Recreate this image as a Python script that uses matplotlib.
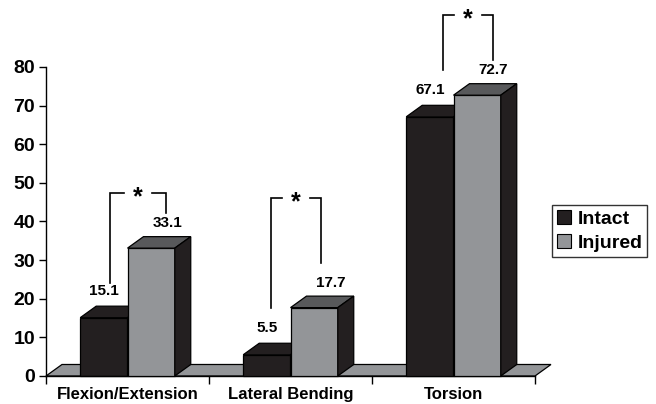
import matplotlib
matplotlib.use("Agg")
import matplotlib.pyplot as plt
from matplotlib.patches import Polygon, Patch

plt.rcParams['font.family'] = ['Liberation Sans', 'DejaVu Sans']
plt.rcParams['font.weight'] = 'bold'

categories = ["Flexion/Extension", "Lateral Bending", "Torsion"]
series_names = ["Intact", "Injured"]
intact = [15.1, 5.5, 67.1]
injured = [33.1, 17.7, 72.7]
yticks = [0, 10, 20, 30, 40, 50, 60, 70, 80]

# significance brackets: (left x, right x, top y, left foot y, right foot y)
brackets = [
    (0.393, 0.736, 47.4, 24.1, 42.2),
    (1.380, 1.687, 46.1, 17.6, 29.3),
    (2.436, 2.742, 93.5, 79.3, 81.9),
]

C_INTACT = "#231f20"
C_INJURED = "#939598"
C_TOP_INJ = "#58595b"
C_FLOOR = "#939598"

W, H = 656, 404
fig = plt.figure(figsize=(W / 100, H / 100), dpi=100)
ax = fig.add_axes([46 / W, (H - 376) / H, 489 / W, 309 / H])
ax.set_xlim(0, 3)
ax.set_ylim(0, 80)

# depth offset of the pseudo-3D extrusion (data units)
DX, DY = 0.098, 2.98
BW = 0.29
LW = 0.9


def poly(pts, fc, z):
    p = Polygon(pts, closed=True, facecolor=fc, edgecolor="black",
                linewidth=LW, zorder=z, clip_on=False, joinstyle="miter")
    ax.add_patch(p)


def box(x0, x1, h, front, top, side, z):
    poly([(x0, 0), (x1, 0), (x1, h), (x0, h)], front, z)
    poly([(x0, h), (x1, h), (x1 + DX, h + DY), (x0 + DX, h + DY)], top, z)
    poly([(x1, 0), (x1 + DX, DY), (x1 + DX, h + DY), (x1, h)], side, z)


# floor
poly([(0, 0), (3, 0), (3 + DX, DY), (DX, DY)], C_FLOOR, 1)

for i in range(len(categories)):
    c = i + 0.5
    box(c - BW, c, intact[i], C_INTACT, C_INTACT, C_INTACT, 2 + 2 * i)
    box(c, c + BW, injured[i], C_INJURED, C_TOP_INJ, C_INTACT, 3 + 2 * i)
    ax.text(c - BW / 2, intact[i] + 7, f"{intact[i]:.1f}", ha="center",
            va="center", fontsize=11, fontweight="bold", zorder=20,
            clip_on=False)
    ax.text(c + BW / 2 + 0.1, injured[i] + 6.5, f"{injured[i]:.1f}",
            ha="center", va="center", fontsize=11, fontweight="bold",
            zorder=20, clip_on=False)

# significance brackets with asterisks
for (xl, xr, yt, yl, yr) in brackets:
    xm = (xl + xr) / 2
    gap = 0.085
    ax.plot([xl, xl, xm - gap], [yl, yt, yt], color="black", lw=1.2,
            clip_on=False, solid_joinstyle="miter", zorder=20)
    ax.plot([xm + gap, xr, xr], [yt, yt, yr], color="black", lw=1.2,
            clip_on=False, solid_joinstyle="miter", zorder=20)
    ax.text(xm, yt - 1.2, "*", ha="center", va="center", fontsize=18,
            fontweight="bold", zorder=20, clip_on=False)

# axes styling
for s in ["top", "right"]:
    ax.spines[s].set_visible(False)
ax.spines["left"].set_linewidth(1.0)
ax.spines["bottom"].set_linewidth(1.0)
ax.spines["left"].set_zorder(0.5)
ax.set_yticks(yticks)
ax.set_yticklabels([str(v) for v in yticks], fontsize=14, fontweight="bold")
ax.tick_params(axis="y", length=5, width=1, pad=3)
ax.set_xticks([0, 1, 2, 3])
ax.set_xticklabels([])
ax.tick_params(axis="x", length=6, width=1)
for i, name in enumerate(categories):
    ax.text(i + 0.5, -2.9, name, ha="center", va="top", fontsize=12,
            fontweight="bold", clip_on=False)

handles = [Patch(facecolor=C_INTACT, edgecolor="black", linewidth=0.8),
           Patch(facecolor=C_INJURED, edgecolor="black", linewidth=0.8)]
leg = fig.legend(handles, series_names, loc="center left",
                 bbox_to_anchor=(552 / W, (H - 231) / H),
                 prop={"size": 14, "weight": "bold"}, frameon=True,
                 fancybox=False, handlelength=0.75, handleheight=0.75,
                 handletextpad=0.3, borderpad=0.25, labelspacing=0.3,
                 borderaxespad=0)
leg.get_frame().set_edgecolor("black")
leg.get_frame().set_linewidth(1.0)

fig.savefig("out.png", dpi=100)
